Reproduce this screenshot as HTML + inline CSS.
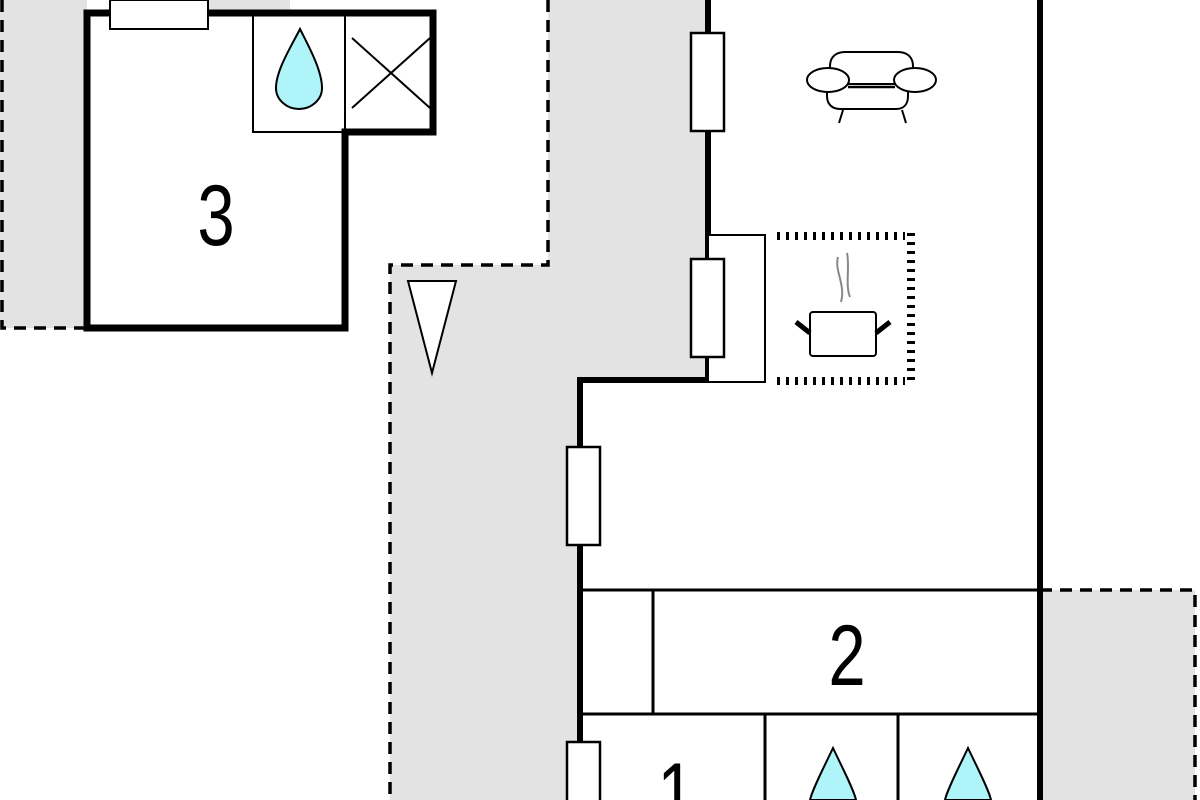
<!DOCTYPE html>
<html><head><style>html,body{margin:0;padding:0;background:#fff;width:1200px;height:800px;overflow:hidden}svg{display:block;overflow:hidden}</style></head>
<body>
<svg width="1200" height="800" viewBox="0 0 1200 800" xmlns="http://www.w3.org/2000/svg">
<g fill="#e3e3e3">
<rect x="0" y="0" width="87" height="328"/>
<rect x="208" y="0" width="82" height="12"/>
<rect x="548" y="0" width="160" height="380"/>
<rect x="390" y="265" width="318" height="115"/>
<rect x="390" y="380" width="190" height="420"/>
<rect x="1040" y="590" width="155" height="210"/>
</g>
<g fill="none" stroke="#000" stroke-width="3.5" stroke-dasharray="12,8">
<path d="M2 0 V328 H87"/>
<path d="M548 0 V265 H390 V800"/>
<path d="M1040 590 H1195 V800"/>
</g>
<rect x="253" y="15" width="92" height="117" fill="#fff" stroke="#000" stroke-width="2"/>
<path d="M345 15 V132 M352 38 L430 108 M352 108 L430 38" stroke="#000" stroke-width="2" fill="none"/>
<path d="M87 13 H433 V132 H345 V328 H87 Z" fill="none" stroke="#000" stroke-width="7"/>
<path d="M110 13 H208" stroke="#fff" stroke-width="9"/>
<rect x="110" y="0" width="98" height="29" fill="#fff" stroke="#000" stroke-width="2"/>
<path d="M300 29 C292 45 276 70 276 88 C276 100 287 109 299 109 C311 109 322 100 322 88 C322 70 308 45 300 29 Z" fill="#aef4f9" stroke="#000" stroke-width="2"/>
<text transform="translate(216,245) scale(0.78,1)" font-family="Liberation Sans, sans-serif" font-size="86" text-anchor="middle">3</text>
<path d="M408 281 H456 L432 373 Z" fill="#fff" stroke="#000" stroke-width="2"/>
<path d="M708 0 V380 H580 V800" fill="none" stroke="#000" stroke-width="6"/>
<path d="M1040 0 V800" stroke="#000" stroke-width="6"/>
<rect x="708" y="235" width="57" height="147" fill="#fff" stroke="#000" stroke-width="2"/>
<g fill="#fff" stroke="#000" stroke-width="2.5">
<rect x="691" y="33" width="33" height="98"/>
<rect x="691" y="259" width="33" height="98"/>
<rect x="567" y="447" width="33" height="98"/>
<rect x="567" y="742" width="33" height="70"/>
</g>
<g stroke="#000" fill="none">
<path d="M777 236 H905" stroke-width="8" stroke-dasharray="3,6"/>
<path d="M777 381 H905" stroke-width="8" stroke-dasharray="3,6"/>
<path d="M911 233 V386" stroke-width="8" stroke-dasharray="3,6"/>
</g>
<rect x="810" y="312" width="66" height="44" rx="3" fill="#fff" stroke="#000" stroke-width="2"/>
<path d="M796 322 L810 333 M890 322 L876 333" stroke="#000" stroke-width="5"/>
<path d="M838 257 C834 270 846 285 841 302 M847 253 C850 266 845 285 850 297" stroke="#888" stroke-width="2" fill="none"/>
<g fill="#fff" stroke="#000" stroke-width="2">
<path d="M830 85 V66 C830 57 836 52 845 52 H898 C907 52 913 57 913 66 V85 Z"/>
<path d="M827 84 V96 C827 104 832 109 840 109 H896 C904 109 908 104 908 96 V84 Z"/>
<ellipse cx="828" cy="80" rx="21" ry="12"/>
<ellipse cx="915" cy="80" rx="21" ry="12"/>
<path d="M848 87 H895" stroke-width="2.5"/>
<path d="M843 110 L839 123 M902 110 L906 123"/>
</g>
<g stroke="#000" stroke-width="3" fill="none">
<path d="M580 590 H1040"/>
<path d="M580 714 H1040"/>
<path d="M653 590 V714"/>
<path d="M765 714 V800"/>
<path d="M898 714 V800"/>
</g>
<text transform="translate(847,685) scale(0.78,1)" font-family="Liberation Sans, sans-serif" font-size="86" text-anchor="middle">2</text>
<text transform="translate(676,823) scale(0.78,1)" font-family="Liberation Sans, sans-serif" font-size="86" text-anchor="middle">1</text>
<path d="M833 748 C825 765 812 790 810 800 H856 C854 790 841 765 833 748 Z" fill="#aef4f9" stroke="#000" stroke-width="2"/>
<path d="M968 748 C960 765 947 790 945 800 H991 C989 790 976 765 968 748 Z" fill="#aef4f9" stroke="#000" stroke-width="2"/>
</svg>
</body></html>
